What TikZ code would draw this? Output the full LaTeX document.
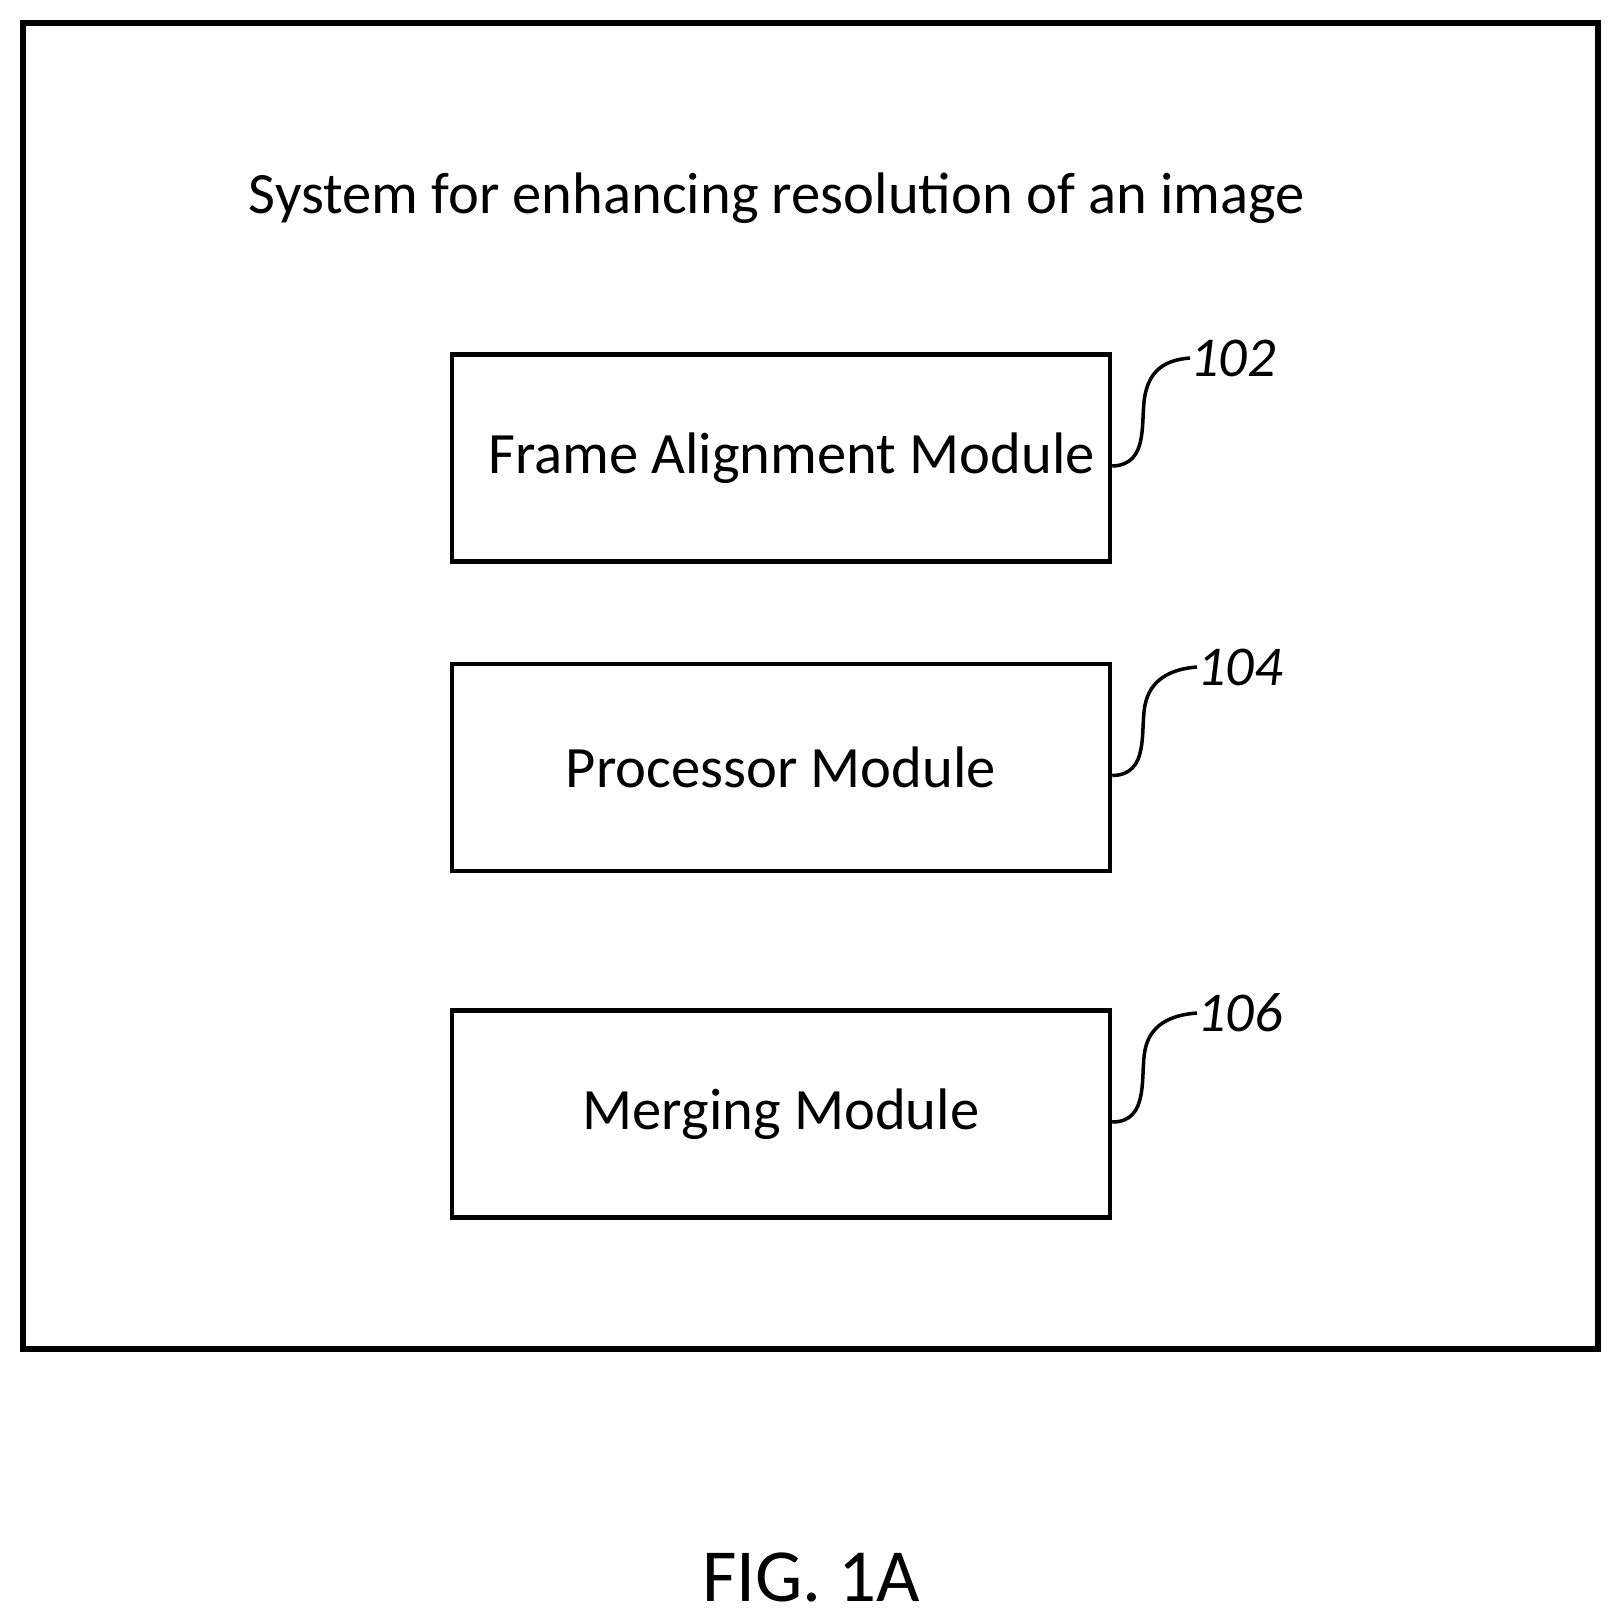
\documentclass[tikz,border=0pt]{standalone}
\usepackage{fontspec}
\setmainfont{Carlito}
\begin{document}
\begin{tikzpicture}[x=0.03cm,y=-0.03cm,
  mod/.style={draw,line width=3.8pt,minimum width=658*0.03cm,minimum height=207*0.03cm,inner sep=0,font=\fontsize{50}{56}\selectfont},
  ref/.style={font=\fontsize{48}{54}\selectfont\itshape,anchor=west,inner sep=0},
  lead/.style={line width=3pt}]
\useasboundingbox (0,0) rectangle (1620,1619);
\node[draw,line width=4.8pt,minimum width=1575*0.03cm,minimum height=1326*0.03cm,inner sep=0] (sys) at (810.5,686) {};
\node[font=\fontsize{50}{56}\selectfont] (title) at (777,198) {System for enhancing resolution of an image};
\node[mod] (a) at (781,458) {\hspace*{18pt}Frame Alignment Module};
\node[mod] (b) at (781,767.5) {Processor Module};
\node[mod] (c) at (781,1114) {Merging Module};
\node[ref] (ra) at (1190,358) {102};
\node[ref] (rb) at (1197,667) {104};
\node[ref] (rc) at (1197,1013) {106};
\coordinate (ae) at ([yshift=-8*0.03cm]a.east);
\coordinate (be) at ([yshift=-8*0.03cm]b.east);
\coordinate (ce) at ([yshift=-8*0.03cm]c.east);
\draw[lead] (ae) .. controls (1150,465) and (1140,420) .. (1145,395) .. controls (1150,370) and (1165,360) .. (ra.west);
\draw[lead] (be) .. controls (1150,775) and (1140,730) .. (1145,705) .. controls (1150,680) and (1170,669) .. (rb.west);
\draw[lead] (ce) .. controls (1150,1122) and (1140,1075) .. (1145,1050) .. controls (1150,1025) and (1170,1015) .. (rc.west);
\node[font=\fontsize{64}{70}\selectfont] (fig) at (811,1577) {FIG. 1A};
\end{tikzpicture}
\end{document}
